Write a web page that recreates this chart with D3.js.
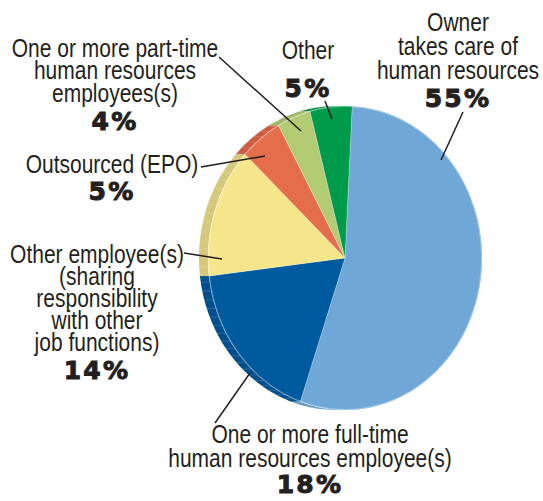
<!DOCTYPE html>
<html>
<head>
<meta charset="utf-8">
<script src="https://cdn.jsdelivr.net/npm/d3@7"></script>
<style>
  html, body { margin: 0; padding: 0; background: #ffffff; }
  svg { display: block; }
  .lbl { font-family: "Liberation Sans", Arial, sans-serif; font-size: 25px; fill: #231f20; }
  .pct { font-family: "DejaVu Sans", sans-serif; font-weight: bold; font-size: 25px; fill: #231f20; stroke: #231f20; stroke-width: 1px; letter-spacing: 2.2px; }
</style>
</head>
<body>
<svg id="chart" width="543" height="501"></svg>
<script>
// Who handles human resources in the business (share of respondents, %)
const categories = [
  "Owner takes care of human resources",
  "One or more full-time human resources employee(s)",
  "Other employee(s) (sharing responsibility with other job functions)",
  "Outsourced (EPO)",
  "One or more part-time human resources employees(s)",
  "Other"
];
const values = [55, 18, 14, 5, 4, 5];
const labelLines = [
  ["Owner", "takes care of", "human resources"],
  ["One or more full-time", "human resources employee(s)"],
  ["Other employee(s)", "(sharing", "responsibility", "with other", "job functions)"],
  ["Outsourced (EPO)"],
  ["One or more part-time", "human resources", "employees(s)"],
  ["Other"]
];
const faceColors = ["#6fa8d6", "#005a9e", "#f5e68c", "#e46d4c", "#b3cc73", "#009a4b"];
const sideColors = ["#5f95c2", "#004f8c", "#d5c87a", "#cc5b3f", "#9db664", "#008640"];

// Layout of the tilted pie (face ellipse + thickness seen on the left)
const cx = 345, cy = 258, rx = 137, ry = 152, depth = 9;
const startDeg = 3;
// condensed look for the label face
const condense = 0.84;

// Text blocks: anchor x, first baseline, line step, percentage baseline, leader line
const layout = [
  { x: 458, y: 31,  step: 24,   py: 107, leader: [[463, 112], [441, 160]] },
  { x: 310, y: 443, step: 24,   py: 493, leader: [[250, 373], [215, 423]] },
  { x: 97,  y: 263, step: 22,   py: 379, leader: [[184, 253], [222, 259]] },
  { x: 112, y: 173, step: 24,   py: 200, leader: [[201, 167], [265, 156]] },
  { x: 115, y: 56.5, step: 22.5, py: 130, leader: [[219, 57], [301, 131]] },
  { x: 308, y: 59,  step: 24,   py: 97,  leader: [[325, 101], [332, 119]] }
];

const svg = d3.select("#chart");

const pie = d3.pie()
  .sort(null)
  .value(d => d)
  .startAngle(startDeg * Math.PI / 180)
  .endAngle((startDeg + 360) * Math.PI / 180);
const slices = pie(values);

// point on the face ellipse for a pie angle (clockwise from 12 o'clock)
const ell = (a, dx = 0) => [cx + dx + rx * Math.sin(a), cy - ry * Math.cos(a)];

// side band of each slice: the outer arc swept leftwards by the pie thickness
const sideG = svg.append("g");
slices.forEach((s, i) => {
  const n = Math.max(4, Math.ceil((s.endAngle - s.startAngle) / 0.02));
  const angles = d3.range(n + 1).map(k => s.startAngle + (s.endAngle - s.startAngle) * k / n);
  const pts = angles.map(a => ell(a, -depth)).concat(angles.slice().reverse().map(a => ell(a, 0)));
  sideG.append("path")
    .attr("d", d3.line()(pts) + "Z")
    .attr("fill", sideColors[i]);
  // faint segment ticks across the side band
  angles.filter((a, k) => k % 3 === 0).forEach(a => {
    const p0 = ell(a, -depth), p1 = ell(a, 0);
    sideG.append("line")
      .attr("x1", p0[0]).attr("y1", p0[1]).attr("x2", p1[0]).attr("y2", p1[1])
      .attr("stroke", "#ffffff").attr("stroke-opacity", 0.25).attr("stroke-width", 0.6);
  });
});

// top face
const arc = d3.arc().innerRadius(0).outerRadius(ry);
const faceG = svg.append("g")
  .attr("transform", `translate(${cx},${cy}) scale(${rx / ry},1)`);
faceG.selectAll("path.slice")
  .data(slices)
  .join("path")
  .attr("class", "slice")
  .attr("d", arc)
  .attr("fill", (d, i) => faceColors[i])
  .attr("stroke", "#ffffff")
  .attr("stroke-opacity", 0.35)
  .attr("stroke-width", 0.7);

// thin highlight along the face rim
svg.append("ellipse")
  .attr("cx", cx).attr("cy", cy).attr("rx", rx - 0.5).attr("ry", ry - 0.5)
  .attr("fill", "none").attr("stroke", "#ffffff").attr("stroke-opacity", 0.35).attr("stroke-width", 0.7);

// leader lines
const labG = svg.append("g");
layout.forEach(L => {
  labG.append("line")
    .attr("x1", L.leader[0][0]).attr("y1", L.leader[0][1])
    .attr("x2", L.leader[1][0]).attr("y2", L.leader[1][1])
    .attr("stroke", "#231f20").attr("stroke-width", 1.5);
});

// category labels (horizontally condensed) and percentages
labelLines.forEach((lines, i) => {
  const L = layout[i];
  lines.forEach((t, k) => {
    labG.append("text").attr("class", "lbl")
      .attr("transform", `translate(${L.x},${L.y + k * L.step}) scale(${condense},1)`)
      .attr("text-anchor", "middle")
      .text(t);
  });
  labG.append("text").attr("class", "pct")
    .attr("x", L.x).attr("y", L.py)
    .attr("text-anchor", "middle")
    .text(values[i] + "%");
});
</script>
</body>
</html>
